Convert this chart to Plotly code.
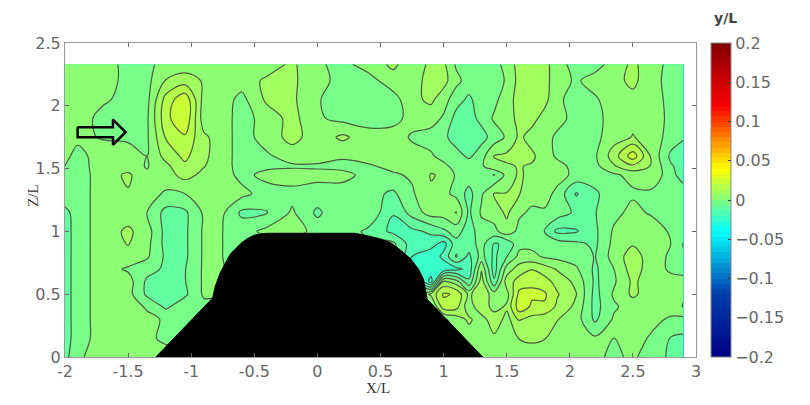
import numpy as np
import plotly.graph_objects as go

# streamwise stations X/L
x_stations = [-2,-1.9,-1.7,-1.5,-1.35,-1.2,-1.05,-0.9,-0.75,-0.6,-0.4,-0.2,0,0.2,0.4,0.6,0.75,0.9,1.0,1.1,1.2,1.3,1.4,1.5,1.6,1.7,1.8,1.9,2.05,2.2,2.35,2.5,2.65,2.8,2.9]
# heights Z/L, one per row below
z_stations = [0,0.15,0.3,0.4,0.5,0.6,0.7,0.8,0.9,1.0,1.15,1.3,1.45,1.52,1.6,1.75,1.9,2.05,2.2,2.33]

# y/L values in thousandths, bottom row first
r000 = [-9,-1,3,2,2,2,1,0,0,0,0,0,0,0,0,0,0,0,0,0,0,3,6,3,3,3,3,2,1,1,-1,1,-3,-8,-8]
r015 = [-10,-3,3,5,1,-1,-1,-1,-1,-1,-1,-1,-1,-1,-1,-1,-1,-1,-1,-1,3,3,5,1,7,8,7,3,3,1,0,3,-1,-7,-8]
r030 = [-10,-3,3,4,2,-1,-1,-1,-1,-1,-1,-1,-1,-1,-1,-1,-1,-1,-1,3,8,3,12,4,14,11,9,7,3,-8,1,2,2,-1,-2]
r040 = [-10,-3,3,4,-1,-8,-2,-2,-2,-2,-2,-2,-2,-2,-2,-2,-2,-2,17,16,2,13,3,8,24,19,19,12,5,-9,-1,3,3,3,7]
r050 = [-10,-3,3,2.5,-8,-10,-8,1,0,-2,-2,-2,-2,-2,-2,-2,-2,8,21,19,5,12,3,4,22,21,21,14,7,-9,1,8,3,3,6]
r060 = [-10,-3,3,3,-8,-11,-7,1,0,-5,-5,-5,-5,-5,-5,-5,-5,-30,8,3,-12,10,-12,10,16,19,16,11,5,-8,-1,8,3,2,2]
r070 = [-10,-3,3,-1,-4,-8,-7,1,0.5,-5,-5,-5,-5,-5,-5,-5,-28,-22,-25,-22,-18,6,-17,3,10,13,10,6,1,-8,0,10,3,-1,-2]
r080 = [-10,-3,3,4,1,-8,-8,1,0,-3,-5,-5,-5,-5,-5,-5,-20,-25,-18,-6,-15,-4,-15,-7,2,2,-1,-2,-3,-7,3,10,3,-1,-6]
r090 = [-10,-3,3,7,2,-9,-8,1,0,-3,-5,-5,-5,-5,-5,-5,-17,-17,-23,-9,-10,-4,-14,-12,-2,-2,-3,-3,-5,-8,2,6,4,0,-7]
r100 = [-10,-3,3,8,3,-9,-8,1,0,-3,2,4,-3,-3,-8,-15,-15,-12,-8,-4,-10,-3,-2,4,-2,-3,-7,-15,-14,-8,1,4,4,-1,-3]
r115 = [-9,-3,3,3,0,-9,-8,1,1,-8,-7,1,-8,-1,-1,-13,-4,3,3,7,-8,1,3,8,1,-1,-1,-3,-8,-7,-2,2,-1,-2,-3]
r130 = [-1,-3,3,6,3,-1,0,1.5,3,2,-3,-2,-3,-3,-4,-8,-1,6,2,-2,-9,-1,7,7,7,2,3,-2,-14,-8,-2,-1,-2,-2,-4]
r145 = [-1,-3,3,8,1,4,9,5,3,-2,2,3,2,2,-2,-1,1,7,6,-1,-3,-2,-7,2,8,4,3,3,-2,-3,-1,2,6,-5,-9]
r152 = [0,-2.5,3,3,-0.5,5,12,7,3,-3,-1.5,-1,-1,-2,-1,2,3,5,2,-3,-3,-1,5,6,7,6,3,2,-2,-2,6,12,6,-6,-9]
r160 = [1.5,-2,3,2.5,0,9,15,8,3,-3,-1,3,3,1,3,3,3,1,-3,-4,-8,-3,7,8,8,8,3,-1,-3,-1,10,24,5,-8,-10]
r175 = [3,1.5,-0.5,-1,-1,14,19,8,3,-3,3,9,3,8,3,4,-1,-3,-5,-10,-9,-9,-4,1,8,4,2,-1,-6,-2,4,7,4,-3,-6]
r190 = [3,3,-2,-2,-1,18,26,3,3,-3,3,9,1,-2,-3,-3,3,3,-1,-9,-9,-5,1,3,9,9,4,2,-2,-3,4,5,4,-2,-5]
r205 = [3,3,1,-2,-2,16,25,4,3,-2,8,8,0.5,-3,-3,-3,5,8,3,-4,-8,-3,-2,4,9,9,9,1,-2,-1,4,5,3,-2,-5]
r220 = [3,3,3,-2,-2,7,10,6,3,3,8,8,2,-2,-3,4,4,9,9,2,-3,-4,-4,1,9,9,9,3,-1,3,5,8,3,-3,-4]
r233 = [3,3,3,-2,-2,3,3,2,3,3,3,8,1,-2,3,8,3,8,8,-1,-3,-3,-3,3,9,9,9,3,-3,-3,3,8,3,-2,-4]

# hill outline (X/L, Z/L)
hill_x = [-1.28,-0.83,-0.81,-0.77,-0.69,-0.6,-0.55,-0.5,-0.45,-0.4,0.3,0.36,0.42,0.5,0.58,0.66,0.74,0.8,0.84,0.87,1.31,-1.28]
hill_z = [0,0.47,0.56,0.67,0.82,0.91,0.945,0.97,0.98,0.985,0.985,0.975,0.96,0.94,0.91,0.85,0.78,0.7,0.62,0.46,0,0]

# flow direction arrow outline (X/L, Z/L)
arrow_x = [-1.9,-1.62,-1.62,-1.52,-1.62,-1.62,-1.9,-1.9]
arrow_z = [1.83,1.83,1.89,1.79,1.69,1.75,1.75,1.83]

x_ticks = [-2,-1.5,-1,-0.5,0,0.5,1,1.5,2,2.5,3]
z_ticks = [0,0.5,1,1.5,2,2.5]

rows = [r000,r015,r030,r040,r050,r060,r070,r080,r090,r100,r115,r130,r145,r152,r160,r175,r190,r205,r220,r233]
values = np.array(rows, dtype=float) / 1000.0
levels = dict(start=-0.2, end=0.2, size=0.4/60)
GRAY = "#666666"
TICK_FONT = dict(family="DejaVu Sans", size=16, color=GRAY)
TITLE_FONT = dict(family="Liberation Serif", size=15, color="#333")

fig = go.Figure()
fig.add_trace(go.Contour(
    x=x_stations, y=z_stations, z=values, zmin=-0.2, zmax=0.2, colorscale="Jet",
    autocontour=False, contours=dict(coloring="fill", showlines=False, **levels),
    line=dict(width=0),
    colorbar=dict(x=1.024, xanchor="left", xref="paper", y=0, yanchor="bottom", len=1, lenmode="fraction",
                  thickness=20, thicknessmode="pixels", tick0=-0.2, dtick=0.05, ticks="inside", ticklen=3,
                  tickcolor="#333", tickfont=TICK_FONT,
                  outlinecolor="#888", outlinewidth=1, xpad=0, ypad=0),
))
fig.add_trace(go.Contour(
    x=x_stations, y=z_stations, z=values, zmin=-0.2, zmax=0.2, showscale=False,
    autocontour=False, contours=dict(coloring="none", **levels),
    line=dict(color="#4a5a40", width=1.2),
))
fig.add_trace(go.Scatter(x=hill_x, y=hill_z, mode="lines", fill="toself", fillcolor="black",
                         line=dict(color="black", width=1), showlegend=False, hoverinfo="skip"))
fig.add_trace(go.Scatter(x=arrow_x, y=arrow_z, mode="lines", line=dict(color="black", width=2.5),
                         showlegend=False, hoverinfo="skip"))

axis = dict(showgrid=False, zeroline=False, showline=True, linecolor="#999", linewidth=1, mirror="ticks",
            ticks="inside", ticklen=4, tickcolor="#666", tickfont=TICK_FONT, automargin=False)
fig.update_xaxes(range=[-2, 3], tickmode="array", tickvals=x_ticks, ticktext=[str(t) for t in x_ticks], **axis)
fig.update_yaxes(range=[0, 2.5], tickmode="array", tickvals=z_ticks, ticktext=[str(t) for t in z_ticks], **axis)
fig.add_annotation(text="X/L", xref="paper", yref="paper", x=0.496, y=-0.099, xanchor="center", yanchor="middle",
                   showarrow=False, font=TITLE_FONT)
fig.add_annotation(text="Z/L", xref="paper", yref="paper", x=-0.051, y=0.516, xanchor="center", yanchor="middle",
                   showarrow=False, textangle=-90, font=TITLE_FONT)
fig.add_annotation(text="<b>y/L</b>", xref="paper", yref="paper", x=1.046, y=1.08, xanchor="center", yanchor="middle",
                   showarrow=False, font=dict(family="DejaVu Sans", size=14, color="#444"))
fig.update_layout(width=794, height=389, margin=dict(l=57, r=106, t=35, b=40),
                  paper_bgcolor="white", plot_bgcolor="white", showlegend=False)
fig.write_html("out.html")
